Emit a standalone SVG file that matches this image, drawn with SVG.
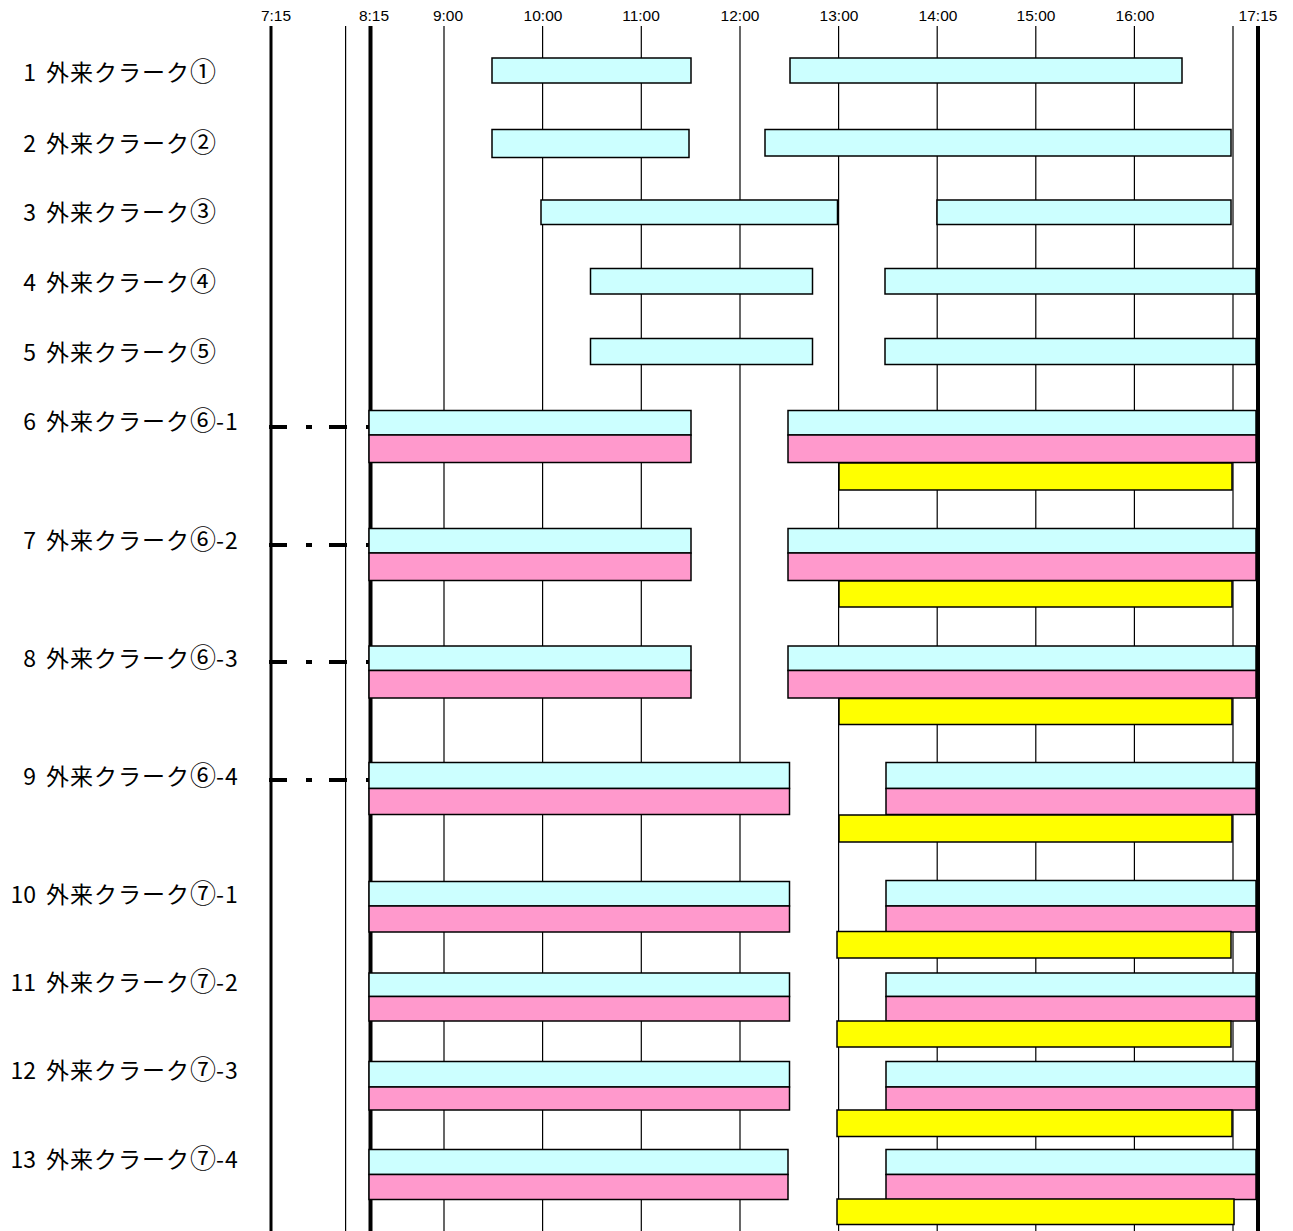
<svg xmlns="http://www.w3.org/2000/svg" width="1293" height="1231" viewBox="0 0 1293 1231">
<style>
.hdr{font-family:"Liberation Sans","Noto Sans",sans-serif;font-size:15.5px;fill:#000;text-anchor:middle}
.num{font-family:"Noto Sans CJK JP","Noto Sans",sans-serif;font-size:23px;fill:#000;text-anchor:end}
.lbl{font-family:"Noto Sans CJK JP","Noto Sans",sans-serif;font-size:23px;letter-spacing:1px;fill:#000}
.ci{font-size:26px;letter-spacing:0px}
.g{stroke:#000;stroke-width:1.2}
.gt{stroke:#000;stroke-width:4}
.c{fill:#ccffff;stroke:#000;stroke-width:1.5}
.p{fill:#ff99cc;stroke:#000;stroke-width:1.5}
.y{fill:#ffff00;stroke:#000;stroke-width:1.5}
.d{stroke:#000;stroke-width:4;stroke-dasharray:18 19 6 17;fill:none}
</style>
<rect width="1293" height="1231" fill="#fff"/>
<g id="axis">
<text class="hdr" x="276" y="21">7:15</text>
<text class="hdr" x="374" y="21">8:15</text>
<text class="hdr" x="448" y="21">9:00</text>
<text class="hdr" x="543" y="21">10:00</text>
<text class="hdr" x="641" y="21">11:00</text>
<text class="hdr" x="740" y="21">12:00</text>
<text class="hdr" x="839" y="21">13:00</text>
<text class="hdr" x="938" y="21">14:00</text>
<text class="hdr" x="1036" y="21">15:00</text>
<text class="hdr" x="1135" y="21">16:00</text>
<text class="hdr" x="1258" y="21">17:15</text>
<line class="gt" x1="271" y1="26" x2="271" y2="1231" style="stroke-width:3"/>
<line class="g" x1="345.6" y1="26" x2="345.6" y2="1231"/>
<line class="gt" x1="370.5" y1="26" x2="370.5" y2="1231"/>
<line class="g" x1="444" y1="26" x2="444" y2="1231"/>
<line class="g" x1="542.6" y1="26" x2="542.6" y2="1231"/>
<line class="g" x1="641.3" y1="26" x2="641.3" y2="1231"/>
<line class="g" x1="740" y1="26" x2="740" y2="1231"/>
<line class="g" x1="838.6" y1="26" x2="838.6" y2="1231"/>
<line class="g" x1="937.2" y1="26" x2="937.2" y2="1231"/>
<line class="g" x1="1035.8" y1="26" x2="1035.8" y2="1231"/>
<line class="g" x1="1134.4" y1="26" x2="1134.4" y2="1231"/>
<line class="g" x1="1233" y1="26" x2="1233" y2="1231"/>
</g>
<g id="connectors">
<line class="d" x1="269" y1="427" x2="369" y2="427"/>
<line class="d" x1="269" y1="545" x2="369" y2="545"/>
<line class="d" x1="269" y1="662" x2="369" y2="662"/>
<line class="d" x1="269" y1="780" x2="369" y2="780"/>
</g>
<g id="row1">
<text class="num" x="36" y="80.5">1</text><text class="lbl" x="46" y="80.5">外来クラーク<tspan class="ci">①</tspan></text>
<rect class="c" x="492" y="58" width="199" height="25"/>
<rect class="c" x="790" y="58" width="392" height="25"/>
</g>
<g id="row2">
<text class="num" x="36" y="152">2</text><text class="lbl" x="46" y="152">外来クラーク<tspan class="ci">②</tspan></text>
<rect class="c" x="492" y="129.5" width="197" height="28"/>
<rect class="c" x="765" y="129.5" width="466" height="26.5"/>
</g>
<g id="row3">
<text class="num" x="36" y="221">3</text><text class="lbl" x="46" y="221">外来クラーク<tspan class="ci">③</tspan></text>
<rect class="c" x="541" y="200" width="296.5" height="24.5"/>
<rect class="c" x="937" y="200" width="294" height="24.5"/>
</g>
<g id="row4">
<text class="num" x="36" y="290.5">4</text><text class="lbl" x="46" y="290.5">外来クラーク<tspan class="ci">④</tspan></text>
<rect class="c" x="590.5" y="268.5" width="222" height="25.5"/>
<rect class="c" x="885" y="268.5" width="371" height="25.5"/>
</g>
<g id="row5">
<text class="num" x="36" y="360.5">5</text><text class="lbl" x="46" y="360.5">外来クラーク<tspan class="ci">⑤</tspan></text>
<rect class="c" x="590.5" y="338.5" width="222" height="26"/>
<rect class="c" x="885" y="338.5" width="371" height="26"/>
</g>
<g id="row6">
<text class="num" x="36" y="430">6</text><text class="lbl" x="46" y="430">外来クラーク<tspan class="ci">⑥</tspan>-1</text>
<rect class="c" x="369" y="410.5" width="322" height="24.5"/>
<rect class="p" x="369" y="435" width="322" height="27.5"/>
<rect class="c" x="788" y="410.5" width="468" height="24.5"/>
<rect class="p" x="788" y="435" width="468" height="27.5"/>
<rect class="y" x="839" y="463" width="393" height="27"/>
</g>
<g id="row7">
<text class="num" x="36" y="548.5">7</text><text class="lbl" x="46" y="548.5">外来クラーク<tspan class="ci">⑥</tspan>-2</text>
<rect class="c" x="369" y="528.5" width="322" height="24.5"/>
<rect class="p" x="369" y="553" width="322" height="27.5"/>
<rect class="c" x="788" y="528.5" width="468" height="24.5"/>
<rect class="p" x="788" y="553" width="468" height="27.5"/>
<rect class="y" x="839" y="581" width="393" height="26"/>
</g>
<g id="row8">
<text class="num" x="36" y="666.5">8</text><text class="lbl" x="46" y="666.5">外来クラーク<tspan class="ci">⑥</tspan>-3</text>
<rect class="c" x="369" y="646" width="322" height="24.5"/>
<rect class="p" x="369" y="670.5" width="322" height="27.5"/>
<rect class="c" x="788" y="646" width="468" height="24.5"/>
<rect class="p" x="788" y="670.5" width="468" height="27.5"/>
<rect class="y" x="839" y="698.5" width="393" height="26"/>
</g>
<g id="row9">
<text class="num" x="36" y="784.5">9</text><text class="lbl" x="46" y="784.5">外来クラーク<tspan class="ci">⑥</tspan>-4</text>
<rect class="c" x="369" y="762.5" width="420.5" height="26"/>
<rect class="p" x="369" y="788.5" width="420.5" height="26"/>
<rect class="c" x="886" y="762.5" width="370" height="26"/>
<rect class="p" x="886" y="788.5" width="370" height="26"/>
<rect class="y" x="839" y="815" width="393" height="27"/>
</g>
<g id="row10">
<text class="num" x="36" y="902.5">10</text><text class="lbl" x="46" y="902.5">外来クラーク<tspan class="ci">⑦</tspan>-1</text>
<rect class="c" x="369" y="881.5" width="420.5" height="24.5"/>
<rect class="p" x="369" y="906" width="420.5" height="26"/>
<rect class="c" x="886" y="880.5" width="370" height="25.5"/>
<rect class="p" x="886" y="906" width="370" height="26"/>
<rect class="y" x="837" y="931.5" width="394" height="26.5"/>
</g>
<g id="row11">
<text class="num" x="36" y="991">11</text><text class="lbl" x="46" y="991">外来クラーク<tspan class="ci">⑦</tspan>-2</text>
<rect class="c" x="369" y="973" width="420.5" height="23.5"/>
<rect class="p" x="369" y="996.5" width="420.5" height="24.5"/>
<rect class="c" x="886" y="973" width="370" height="23.5"/>
<rect class="p" x="886" y="996.5" width="370" height="24.5"/>
<rect class="y" x="837" y="1021" width="394" height="26"/>
</g>
<g id="row12">
<text class="num" x="36" y="1079">12</text><text class="lbl" x="46" y="1079">外来クラーク<tspan class="ci">⑦</tspan>-3</text>
<rect class="c" x="369" y="1061.5" width="420.5" height="25.5"/>
<rect class="p" x="369" y="1087" width="420.5" height="23"/>
<rect class="c" x="886" y="1061.5" width="370" height="25.5"/>
<rect class="p" x="886" y="1087" width="370" height="23"/>
<rect class="y" x="837" y="1110" width="395" height="26.5"/>
</g>
<g id="row13">
<text class="num" x="36" y="1168">13</text><text class="lbl" x="46" y="1168">外来クラーク<tspan class="ci">⑦</tspan>-4</text>
<rect class="c" x="369" y="1149.5" width="419" height="25"/>
<rect class="p" x="369" y="1174.5" width="419" height="25"/>
<rect class="c" x="886" y="1149.5" width="370" height="25"/>
<rect class="p" x="886" y="1174.5" width="370" height="25"/>
<rect class="y" x="837" y="1199" width="397" height="25.5"/>
</g>
<g id="edge">
<line class="gt" x1="1258" y1="26" x2="1258" y2="1231"/>
</g>
</svg>
